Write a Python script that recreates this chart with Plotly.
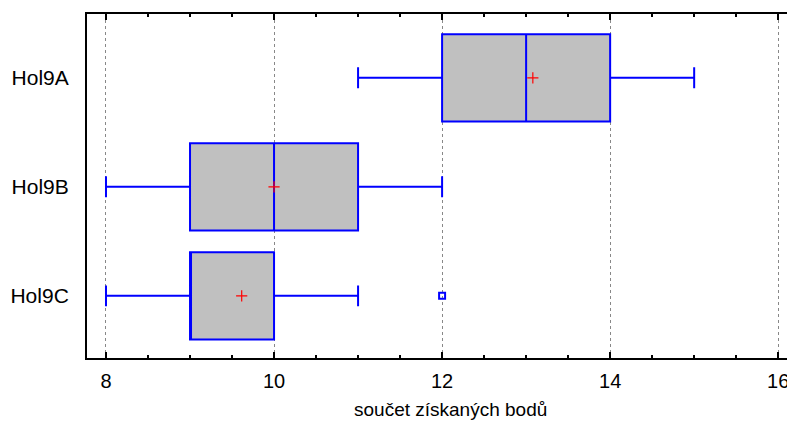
import plotly.graph_objects as go

categories = ["Hol9A", "Hol9B", "Hol9C"]
lower_whisker = [11, 8, 8]
q1 = [12, 9, 9]
median = [13, 10, 9]
q3 = [14, 11, 10]
upper_whisker = [15, 12, 11]
means = [13.08, 10.0, 9.615]
outlier_cat = ["Hol9C"]
outlier_val = [12]
x_ticks = [8, 10, 12, 14, 16]

pos = {c: i for i, c in enumerate(categories)}

fig = go.Figure()
for i, c in enumerate(categories):
    fig.add_trace(go.Box(
        orientation="h",
        y=[pos[c]],
        q1=[q1[i]], median=[median[i]], q3=[q3[i]],
        lowerfence=[lower_whisker[i]], upperfence=[upper_whisker[i]],
        fillcolor="#C0C0C0",
        line=dict(color="#0000FF", width=2),
        width=0.8,
        whiskerwidth=0.24,
        boxpoints=False,
        showlegend=False,
        hoverinfo="skip",
    ))

fig.add_trace(go.Scatter(
    x=means, y=[pos[c] for c in categories], mode="markers",
    marker=dict(symbol="cross-thin", size=8, line=dict(color="#FF0000", width=1.2)),
    showlegend=False, hoverinfo="skip",
))
fig.add_trace(go.Scatter(
    x=outlier_val, y=[pos[c] for c in outlier_cat], mode="markers",
    marker=dict(symbol="square-open", size=6, color="#0000FF", line=dict(color="#0000FF", width=2)),
    showlegend=False, hoverinfo="skip",
))

# the page body adds an 8px margin; size the figure to compensate
fig.update_layout(
    width=787, height=416,
    margin=dict(l=79, r=0, t=6, b=66),
    plot_bgcolor="white", paper_bgcolor="white",
    font=dict(family="Liberation Sans, Arial, sans-serif", color="black"),
    xaxis=dict(
        range=[7.774, 16.2],
        tickvals=x_ticks,
        ticktext=[str(v) for v in x_ticks],
        showgrid=True, gridcolor="#888888", griddash="dot", gridwidth=1,
        zeroline=False,
        showline=True, linecolor="black", linewidth=2,
        mirror="ticks",
        ticks="inside", ticklen=6, tickwidth=2, tickcolor="black",
        minor=dict(dtick=0.5, ticks="inside", ticklen=3, tickwidth=1.5, tickcolor="black", showgrid=False),
        tickfont=dict(size=20),
        ticklabelstandoff=4,
        automargin=False,
    ),
    yaxis=dict(
        range=[2.57, -0.585],
        tickvals=list(range(len(categories))),
        ticktext=categories,
        showgrid=False, zeroline=False,
        showline=True, linecolor="black", linewidth=2,
        ticks="", tickfont=dict(size=21),
        ticklabelstandoff=12,
        automargin=False,
    ),
    annotations=[dict(
        text="součet získaných bodů", xref="paper", yref="paper",
        x=0.513, y=-0.15, xanchor="center", yanchor="middle",
        showarrow=False, font=dict(size=19),
    )],
)

fig.write_html("out.html")
